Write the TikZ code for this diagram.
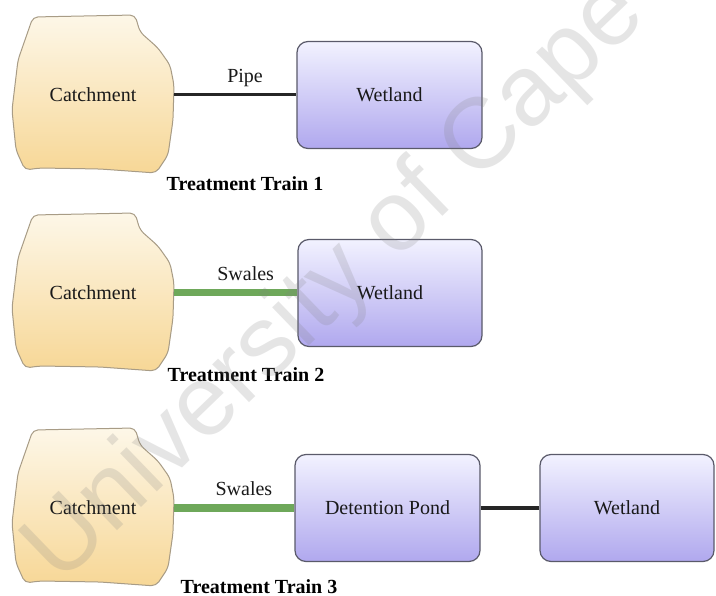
\documentclass[tikz,border=0pt]{standalone}
\usepackage{fontspec}
\setmainfont{Liberation Serif}
\newfontfamily\wmfont{Liberation Sans}
\usetikzlibrary{calc}

\definecolor{catchtop}{HTML}{FDF7E8}
\definecolor{catchbot}{HTML}{F7D796}
\definecolor{catchline}{HTML}{A89C86}
\definecolor{boxtop}{HTML}{F2F2FF}
\definecolor{boxbot}{HTML}{B0A8EE}
\definecolor{boxline}{HTML}{5A5A6A}
\definecolor{swale}{HTML}{6EA85A}

\tikzset{
  txt/.style={font=\rmfamily\fontsize{20}{24}\selectfont, text=black!90},
  catch/.style={txt, minimum width=162pt, minimum height=158pt, inner sep=0pt},
  unit/.style={txt, draw=boxline, line width=1.2pt, rounded corners=11pt,
    top color=boxtop, bottom color=boxbot, minimum height=107pt, inner sep=0pt},
  pipeline/.style={line width=3pt, black!85},
  swaleline/.style={line width=7pt, swale},
  lbl/.style={txt, anchor=base, yshift=12pt},
  train/.style={font=\rmfamily\bfseries\fontsize{20}{24}\selectfont, anchor=base},
  blob/.style={draw=catchline, line width=1pt, top color=catchtop,
    bottom color=catchbot, rounded corners=5pt},
}

% irregular catchment outline around a given coordinate
\newcommand\catchblob[1]{%
  \begin{scope}[shift={(#1)}]
    \path[blob] (-60,-78) -- (42,-80) -- (47,-63) -- (65,-47) -- (77,-30)
      -- (81,-10) -- (80,25) -- (75,60) -- (63,78) -- (7,74) -- (-53,73)
      -- (-68,75) -- (-77,55) -- (-81,15) -- (-75,-35) -- cycle;
  \end{scope}}

\begin{document}
\begin{tikzpicture}[x=1pt, y=-1pt]
  \useasboundingbox (0,0) rectangle (716,596);
  \fill[white] (0,0) rectangle (716,596);

  % Treatment Train 1
  \coordinate (k1) at (93,95);
  \catchblob{k1}
  \node[catch] (c1) at (k1) {Catchment};
  \node[unit, minimum width=185pt] (w1) at (389.5,95) {Wetland};
  \draw[pipeline] (c1.east) -- node[lbl, pos=0.58] {Pipe} (w1.west);
  \node[train] (t1) at (245,191) {Treatment Train 1};

  % Treatment Train 2
  \coordinate (k2) at (93,293);
  \catchblob{k2}
  \node[catch] (c2) at (k2) {Catchment};
  \node[unit, minimum width=184pt] (w2) at (390,293) {Wetland};
  \draw[swaleline] (c2.east) -- node[lbl, pos=0.58] {Swales} (w2.west);
  \node[train] (t2) at (246,382) {Treatment Train 2};

  % Treatment Train 3
  \coordinate (k3) at (93,508);
  \catchblob{k3}
  \node[catch] (c3) at (k3) {Catchment};
  \node[unit, minimum width=185pt] (d3) at (387.5,508) {Detention Pond};
  \node[unit, minimum width=174pt] (w3) at (627,508) {Wetland};
  \draw[swaleline] (c3.east) -- node[lbl, pos=0.58] {Swales} (d3.west);
  \draw[pipeline] (d3.east) -- (w3.west);
  \node[train] (t3) at (259,593) {Treatment Train 3};

  % watermark
  \node[rotate=44, anchor=base west, text=gray, opacity=0.2,
    font=\wmfont\fontsize{100}{100}\selectfont] (wm) at (58,588)
    {University of Cape Town};
\end{tikzpicture}
\end{document}
